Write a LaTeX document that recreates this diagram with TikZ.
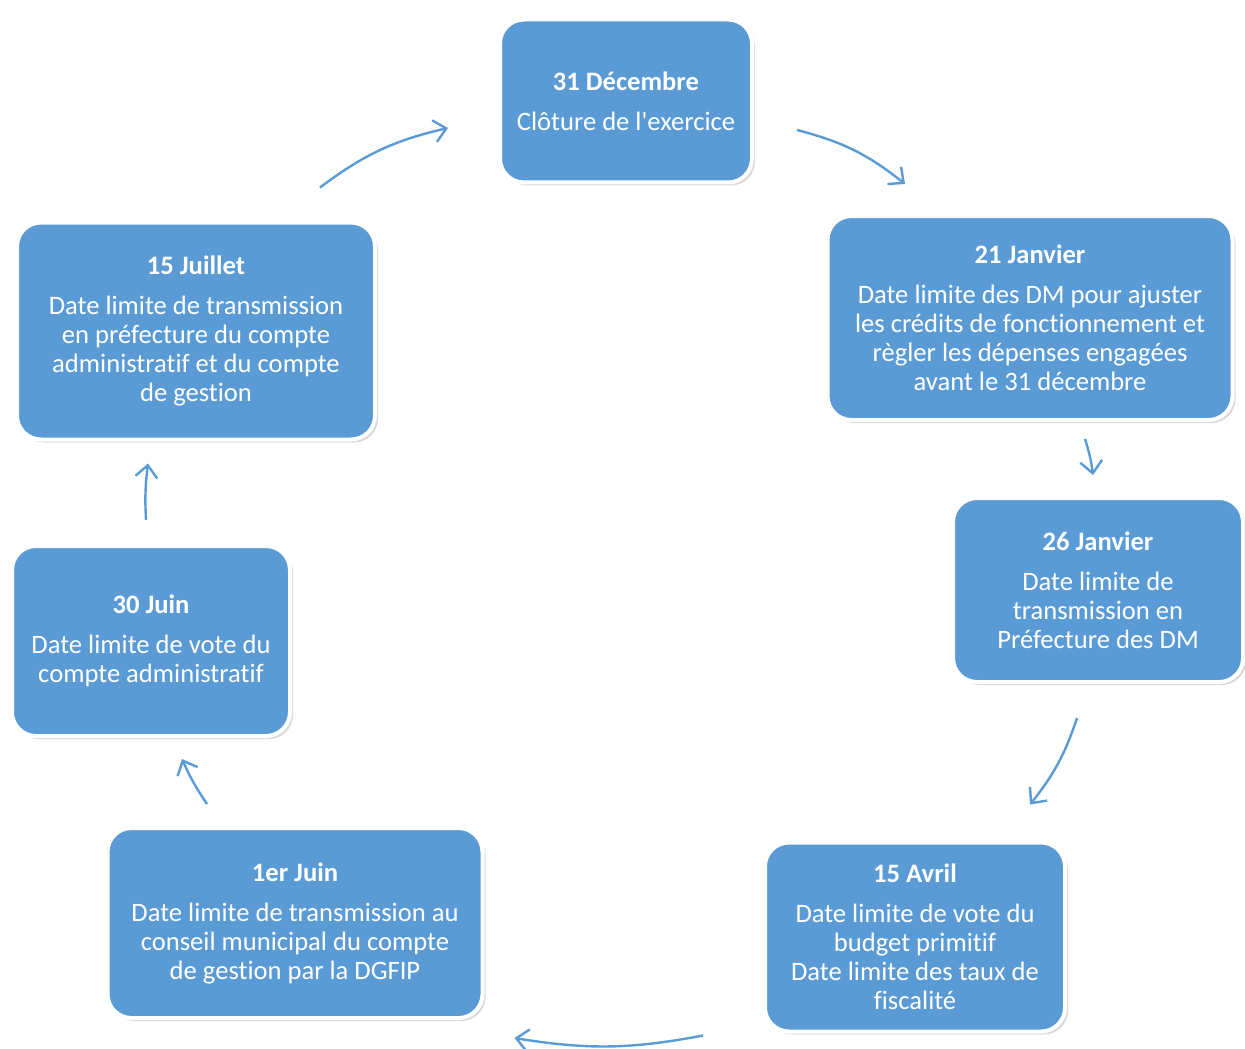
\documentclass[tikz,border=0pt]{standalone}
\usepackage{fontspec}
\setmainfont{Carlito}[Ligatures={CommonOff,TeXOff}]
\usetikzlibrary{arrows.meta, shadows}

\definecolor{boxblue}{HTML}{5B9BD5}
\tikzset{
  datebox/.style={rounded corners=12pt, fill=boxblue, draw=white, line width=2pt,
    text=white, align=center, inner sep=0pt,
    font=\fontsize{13.3}{14.5}\selectfont,
    drop shadow={opacity=0.3, shadow xshift=1.5pt, shadow yshift=-1.5pt}},
  cyclearrow/.style={draw=boxblue, line width=1.2pt, -{Straight Barb[length=6pt,width=11pt]}}
}
\newcommand{\datetitle}[1]{{\bfseries #1}\\[5.5pt]}

\begin{document}
\begin{tikzpicture}[x=0.5pt, y=-0.5pt]
\useasboundingbox (0,0) rectangle (1245,1048);

\node (dec) at (626,101) [datebox, minimum width=126pt, minimum height=81.5pt]
  {\datetitle{31 Décembre}Clôture de l'exercice};
\node (jan21) at (1030,318) [datebox, minimum width=202.5pt, minimum height=102pt]
  {\datetitle{21 Janvier}Date limite des DM pour ajuster\\les crédits de fonctionnement et\\règler les dépenses engagées\\avant le 31 décembre};
\node (jan26) at (1098,590) [datebox, minimum width=145pt, minimum height=92pt]
  {\datetitle{26 Janvier}Date limite de\\transmission en\\Préfecture des DM};
\node (avr) at (915,937) [datebox, minimum width=150pt, minimum height=94.5pt]
  {\datetitle{15 Avril}Date limite de vote du\\budget primitif\\Date limite des taux de\\fiscalité};
\node (juin1) at (295,923) [datebox, minimum width=187.5pt, minimum height=95pt]
  {\datetitle{1er Juin}Date limite de transmission au\\conseil municipal du compte\\de gestion par la DGFIP};
\node (juin30) at (151,641) [datebox, minimum width=139pt, minimum height=95pt]
  {\datetitle{30 Juin}Date limite de vote du\\compte administratif};
\node (juil) at (196,331) [datebox, minimum width=179pt, minimum height=108.5pt]
  {\datetitle{15 Juillet}Date limite de transmission\\en préfecture du compte\\administratif et du compte\\de gestion};

\draw [cyclearrow] ([shift={(43,29)}]dec.east) to [bend left=12] ([shift={(-125,-30)}]jan21.north);
\draw [cyclearrow] ([shift={(55,17)}]jan21.south) to [bend left=5] ([shift={(-5,-21)}]jan26.north);
\draw [cyclearrow] ([shift={(-21,34)}]jan26.south) to [bend left=10] ([shift={(115,-36)}]avr.north);
\draw [cyclearrow] ([shift={(-212,2)}]avr.south) to [bend left=10] ([shift={(30,18)}]juin1.south east);
\draw [cyclearrow] ([shift={(-88,-22)}]juin1.north) to [bend left=5] ([shift={(31,21)}]juin30.south);
\draw [cyclearrow] ([shift={(-5,-24)}]juin30.north) to [bend left=5] ([shift={(-48,22)}]juil.south);
\draw [cyclearrow] ([shift={(124,-33)}]juil.north) to [bend left=12] ([shift={(-50,27)}]dec.west);
\end{tikzpicture}
\end{document}
